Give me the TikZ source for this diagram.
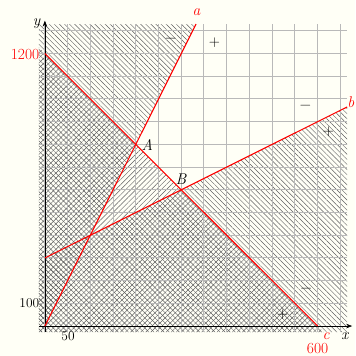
\documentclass[tikz,border=0pt]{standalone}
\usepackage{fontspec}
\usepackage{tikz}
\usetikzlibrary{arrows.meta,patterns.meta}
\definecolor{paper}{RGB}{255,255,246}
\definecolor{hatchgray}{RGB}{95,95,95}
\definecolor{gridgray}{RGB}{185,185,185}

\begin{document}
\begin{tikzpicture}[
    x=0.016cm, y=0.008cm,
    lbl/.style={font=\fontsize{15.5}{18}\selectfont, inner sep=0pt},
    num/.style={font=\fontsize{13.5}{15}\selectfont, inner sep=0pt},
    redlbl/.style={lbl, text=red},
    bound/.style={red, line width=1.1pt},
    axis/.style={-{Stealth[length=6pt,width=4.5pt]}, line width=0.6pt},
    hatchne/.style={pattern={Lines[angle=45,distance=3.6pt,line width=0.45pt]}, pattern color=hatchgray},
    hatchnw/.style={pattern={Lines[angle=-45,distance=3.6pt,line width=0.45pt]}, pattern color=hatchgray},
    gridline/.style={gridgray, line width=1pt, xstep=50, ystep=100}
]
% Page and frame
\fill[paper] (-98.8,-132) rectangle (683,1436);
\useasboundingbox (-98.8,-132) rectangle (683,1436);

% Key points
\coordinate (O)    at (0,0);
\coordinate (A)    at (200,800);
\coordinate (B)    at (300,600);
\coordinate (aend) at (332.5,1330);
\coordinate (b0)   at (0,300);
\coordinate (bend) at (665,965);
\coordinate (c0)   at (0,1200);
\coordinate (c1)   at (600,0);

% Excluded half-planes
\path[hatchne] (-13.5,-27) -- (-13.5,1227) -- (613.5,-27) -- cycle;
\path[hatchnw] (-13.5,-27) -- (-6.75,-27) -- (aend) -- (-13.5,1330) -- cycle;
\path[hatchnw] (-13.5,-27) -- (665,-27) -- (bend) -- (-13.5,286.5) -- cycle;

% Grid and axes
\draw[gridline] (-13.5,-27) grid (665,1330);
\coordinate (xs) at (-13.5,0);
\coordinate (xe) at (676,0);
\coordinate (ys) at (0,-27);
\coordinate (ye) at (0,1345);
\draw[axis] (xs) -- (xe);
\draw[axis] (ys) -- (ye);

% Boundary lines
\draw[bound] (O)  -- (aend);
\draw[bound] (b0) -- (bend);
\draw[bound] (c0) -- (c1);

% Labels
\node[redlbl] (la)   at (334,1383) {\textit{a}};
\node[redlbl] (lb)   at (673,985)  {\textit{b}};
\node[redlbl] (lc)   at (619,-44)  {\textit{c}};
\node[redlbl, anchor=east] (l1200) at (-12,1198) {1200};
\node[redlbl] (l600) at (600,-100) {600};
\node[num, anchor=east] (l100) at (-12,99) {100};
\node[num]    (l50)  at (51,-46)   {50};
\node[lbl]    (lx)   at (661,-44)  {\textit{x}};
\node[lbl]    (ly)   at (-18,1333) {\textit{y}};
\node[lbl]    (lA)   at (225,797)  {\textit{A}};
\node[lbl]    (lB)   at (300,648)  {\textit{B}};

% Signs
\node[lbl] (am) at (277,1260) {−};
\node[lbl] (ap) at (373,1247) {+};
\node[lbl] (bm) at (573,965)  {−};
\node[lbl] (bp) at (624,855)  {+};
\node[lbl] (cm) at (575,159)  {−};
\node[lbl] (cp) at (523,52)   {+};
\end{tikzpicture}
\end{document}
